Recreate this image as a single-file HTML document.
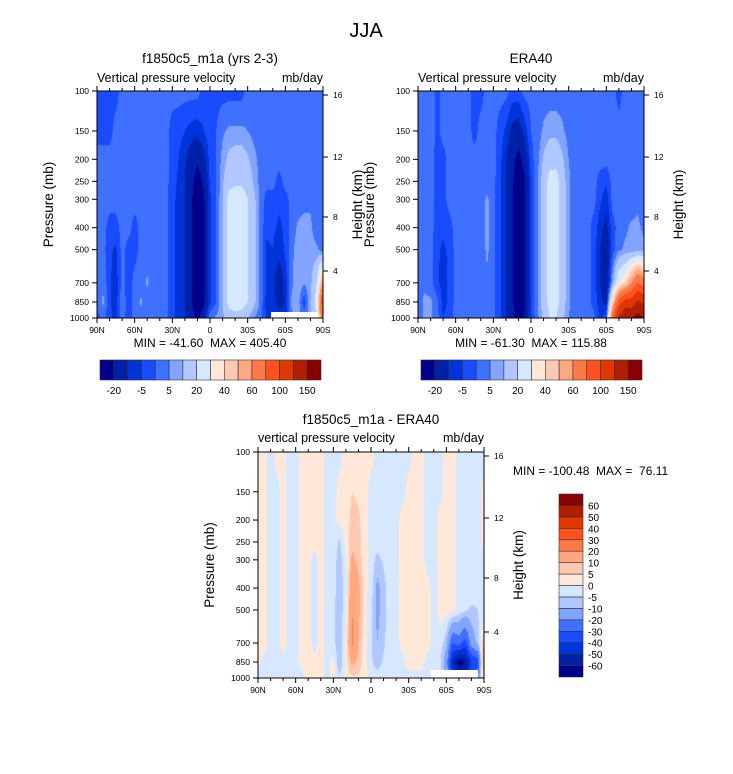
<!DOCTYPE html>
<html><head><meta charset="utf-8">
<style>
body{margin:0;background:#fff;}
#root{position:relative;width:733px;height:774px;overflow:hidden;font-family:"Liberation Sans",sans-serif;background:#fff;}
canvas{position:absolute;}
svg{position:absolute;left:0;top:0;}
</style></head>
<body>
<div id="root">
<canvas id="c1" width="226" height="227" style="left:97px;top:91px"></canvas>
<canvas id="c2" width="226" height="227" style="left:418px;top:91px"></canvas>
<canvas id="c3" width="226" height="226" style="left:258px;top:452px"></canvas>
<svg id="ov" width="733" height="774"></svg>
</div>
<script>
const pLevels = [100,150,200,250,300,400,500,700,850,1000];
const latTickLabels = ['90N','60N','30N','0','30S','60S','90S'];
const pTickLabels = [100,150,200,250,300,400,500,700,850,1000];
const heightTickLabels = [16,12,8,4];
const palette = ['#00008c','#0020a8','#0033d8','#1a4cff','#4070ff','#80a4ff','#b0c8ff','#d6e8ff','#ffe8d8','#ffc8b0','#ffa880','#ff7848','#ff5020','#e03800','#b02000','#8a0000'];
const topLevels = [-20,-10,-5,0,5,10,20,30,40,50,60,80,100,125,150];
const topLevelLabels = ['-20','-5','5','20','40','60','100','150'];
const diffLevels = [-60,-50,-40,-30,-20,-10,-5,0,5,10,20,30,40,50,60];
const diffLevelLabels = ['-60','-50','-40','-30','-20','-10','-5','0','5','10','20','30','40','50','60'];

const modelRows = [
[-2,-2,-2,-2,2,2,2,2,2,2,2,2,2,2,2,2,2,-2,-2,-2,-2,-2,-2,-2,2,2,2,2,2,2,2,2,2,2,2,2,2],
[-2,-2,-2,2,2,2,2,2,2,2,2,2,-2,-3,-5,-7,-8,-5,-2,0,4,6,6,6,5,3,2,2,2,2,2,2,2,2,2,2,2],
[2,2,2,2,2,2,2,2,2,2,2,2,-2,-5,-9,-14,-18,-13,-3,0,7,12,14,14,11,7,3,2,2,2,2,2,2,2,2,2,2],
[2,2,2,2,2,2,2,2,2,2,2,2,-3,-6,-10,-16,-26,-18,-4,0,9,16,18,18,15,9,3,2,2,-2,2,2,2,2,2,2,2],
[2,2,2,2,2,2,2,2,2,2,2,2,-4,-6,-10,-18,-30,-22,-6,0,10,24,26,26,20,12,4,-2,-2,-4,-2,2,2,2,4,2,2],
[2,2,-2,-2,2,2,-2,2,2,2,2,2,-4,-6,-10,-18,-30,-22,-6,0,10,24,26,26,20,12,4,-4,-4,-6,-4,2,6,8,6,2,2],
[2,2,-4,-6,2,-2,-2,2,2,2,2,2,-4,-6,-10,-18,-30,-22,-6,0,10,24,26,26,20,12,4,-6,-5,-8,-4,4,7,8,7,6,2],
[2,4,-4,-8,2,-3,2,2,6,2,2,2,-4,-6,-10,-18,-30,-22,-6,0,10,24,26,26,20,12,4,-6,-8,-15,-8,4,8,6,8,20,60],
[2,6,-4,-8,4,-3,2,6,2,2,2,2,-4,-6,-10,-18,-30,-22,-6,0,10,24,26,26,20,12,4,-7,-8,-12,-10,6,8,-4,10,25,100],
[-2,2,-4,-6,2,-2,2,2,2,2,2,2,-4,-6,-10,-16,-22,-14,4,6,8,14,16,14,10,5,2,-6,-6,-8,-6,4,6,4,6,20,80]
];
const eraRows = [
[2,2,5,-2,2,2,2,2,2,-2,-2,2,2,2,2,-2,-2,2,2,2,2,2,2,2,2,2,2,2,2,2,2,2,-2,2,2,2,2],
[2,2,5,-2,2,2,2,2,2,-2,2,2,2,-2,-6,-12,-14,-8,0,2,6,8,8,6,3,2,2,2,2,2,2,2,2,2,2,2,2],
[2,2,2,-2,-2,2,2,2,2,2,2,2,2,-3,-10,-16,-24,-16,-2,3,11,16,16,11,5,2,2,2,2,2,2,2,2,2,2,2,2],
[2,2,2,-2,-2,2,2,2,2,2,2,2,2,-4,-10,-18,-30,-22,-4,4,14,24,25,14,6,2,2,2,2,-2,-4,2,2,2,2,2,2],
[2,2,2,-2,-2,2,2,2,2,2,2,6,2,-4,-10,-18,-30,-22,-4,4,14,24,25,14,6,2,2,2,2,-4,-8,2,2,2,2,4,2],
[2,2,2,-2,-4,-2,2,2,2,2,2,6,2,-4,-10,-18,-30,-22,-4,4,14,24,25,14,6,2,2,2,-2,-8,-12,-2,2,4,6,6,4],
[2,2,2,-4,-6,-4,2,2,2,2,2,6,2,-4,-10,-18,-30,-22,-4,4,14,24,25,14,6,2,2,2,-2,-10,-16,-2,4,6,6,8,6],
[2,4,2,-4,-7,-4,2,2,2,2,2,4,2,-4,-10,-18,-30,-22,-4,4,14,24,25,14,6,2,2,2,-2,-10,-18,8,30,40,60,80,70],
[2,6,6,2,-7,-4,2,2,2,2,2,2,2,-4,-10,-18,-30,-22,-4,4,14,24,25,14,6,2,2,2,-2,-8,-12,40,90,110,110,130,120],
[2,6,6,2,-5,-2,2,2,2,2,2,2,2,-4,-10,-16,-26,-18,-4,3,12,20,20,12,5,2,2,2,2,-6,-2,80,130,150,150,160,150]
];
const diffRows = [
[2,2,-2,2,2,-2,-2,2,2,2,2,-2,-2,-2,2,2,2,2,2,-2,-2,-2,-2,-2,-2,2,2,-2,-2,-2,2,2,-2,-2,-2,-2,-2],
[2,2,-2,-2,2,-2,-2,2,2,2,2,-2,-2,2,2,5,4,2,-2,-2,-3,-2,-2,-2,2,2,2,-2,-2,-2,2,2,-2,-2,-2,-2,2],
[2,2,-2,-2,2,-2,-2,2,2,2,2,-2,-2,2,2,7,6,2,-2,-2,-2,-2,-2,2,2,2,2,-2,-2,2,2,2,-2,-2,-2,-2,2],
[2,2,-2,-2,2,-2,-2,2,2,2,2,-2,-2,-6,2,8,7,2,-2,-2,-2,-2,-2,2,2,2,2,-2,-2,2,2,2,-2,-2,-2,-2,2],
[2,2,-2,-2,2,-2,-2,2,2,-2,2,-2,-3,-7,-2,12,8,2,-2,-7,-4,-2,-2,2,2,2,2,-2,-2,2,2,2,-2,-2,-2,-2,-2],
[2,2,-2,-2,2,-2,-2,2,2,-2,2,-2,-3,-8,-2,18,12,2,-2,-12,-7,-2,-2,2,2,2,2,2,-2,2,2,2,-2,-2,-2,-3,-4],
[2,2,-2,-2,2,-2,-2,2,2,-2,2,-2,-4,-8,-2,20,12,2,-4,-12,-7,-2,-2,2,2,2,2,2,-2,2,2,2,-2,-4,-6,-5,-3],
[2,2,-2,-2,2,-2,-2,2,2,-2,2,-2,-4,-8,2,22,10,2,-4,-10,-6,-2,-2,2,2,2,2,2,-2,-2,-8,-30,-25,-35,-15,-8,10],
[2,-2,-2,-2,-2,-2,-2,2,2,2,2,-2,2,-10,2,12,8,2,-4,-8,-4,-2,-2,-2,2,2,2,-2,-2,-4,-15,-50,-65,-60,-40,-35,20],
[-2,-2,-2,-2,-2,-2,-2,-2,2,2,2,-2,2,-4,2,4,4,2,-2,-2,-2,-2,-2,-2,-2,-2,-2,-2,-2,-4,-10,-40,-50,-50,-30,-20,10]
];

const NS='http://www.w3.org/2000/svg';
const ov=document.getElementById('ov');
function hexRgb(h){return [parseInt(h.substr(1,2),16),parseInt(h.substr(3,2),16),parseInt(h.substr(5,2),16)];}
const palRgb=palette.map(hexRgb);
function levelIndex(v,lv){let k=0;while(k<lv.length&&v>=lv[k])k++;return k;}
function yOfP(p,top,h){return top+Math.log10(p/100)*h;}

function renderField(id,rows,lv){
  const cv=document.getElementById(id),ctx=cv.getContext('2d');
  const W=cv.width,H=cv.height,img=ctx.createImageData(W,H);
  const ncol=rows[0].length;
  const lp=pLevels.map(p=>Math.log10(p/100));
  for(let y=0;y<H;y++){
    const f=(y+0.5)/H;
    let j=0;while(j<lp.length-2&&f>lp[j+1])j++;
    const ty=Math.min(1,Math.max(0,(f-lp[j])/(lp[j+1]-lp[j])));
    for(let x=0;x<W;x++){
      const c=(x+0.5)/W*(ncol-1);
      const i=Math.min(ncol-2,Math.floor(c)),tx=c-i;
      const a=rows[j][i]*(1-tx)+rows[j][i+1]*tx;
      const b=rows[j+1][i]*(1-tx)+rows[j+1][i+1]*tx;
      const v=a*(1-ty)+b*ty;
      const col=palRgb[levelIndex(v,lv)];
      const o=(y*W+x)*4;img.data[o]=col[0];img.data[o+1]=col[1];img.data[o+2]=col[2];img.data[o+3]=255;
    }
  }
  ctx.putImageData(img,0,0);
}
function el(tag,attrs,txt){const e=document.createElementNS(NS,tag);for(const k in attrs)e.setAttribute(k,attrs[k]);if(txt!==undefined)e.textContent=txt;ov.appendChild(e);return e;}

const heightOffsets=[4,66,126,180];
function drawAxes(L,T,W,H,sub,subY,left,unitsY){
  let e;
  e=el('text',{x:L+W/2,y:subY,'text-anchor':'middle','font-size':13.5},sub);
  
  e=el('text',{x:L,y:unitsY,'font-size':12.5},left);
  
  e=el('text',{x:L+W,y:unitsY,'text-anchor':'end','font-size':12.5},'mb/day');
  
  e=el('rect',{x:L,y:T,width:W,height:H,fill:'none',stroke:'#000','stroke-width':1});
  
  pTickLabels.forEach(p=>{const y=yOfP(p,T,H);
    el('line',{x1:L-5,x2:L,y1:y,y2:y,stroke:'#000'});
    e=el('text',{x:L-8,y:y+3,'text-anchor':'end','font-size':8.5},String(p));
    });
  latTickLabels.forEach((t,k)=>{const x=L+k*W/6;
    el('line',{x1:x,x2:x,y1:T+H,y2:T+H+5,stroke:'#000'});
    el('line',{x1:x,x2:x,y1:T-5,y2:T,stroke:'#000'});
    e=el('text',{x:x,y:T+H+15,'text-anchor':'middle','font-size':8.5},t);
    });
  for(let k=0;k<18;k++){const x=L+k*W/18;if(k%3){el('line',{x1:x,x2:x,y1:T+H,y2:T+H+3,stroke:'#000'});el('line',{x1:x,x2:x,y1:T-3,y2:T,stroke:'#000'});}}
  heightTickLabels.forEach((h,k)=>{const y=T+heightOffsets[k];
    el('line',{x1:L+W,x2:L+W+5,y1:y,y2:y,stroke:'#000'});
    e=el('text',{x:L+W+10,y:y+3,'font-size':8.5},String(h));
    });
  const cy=T+H/2;
  e=el('text',{x:L-44,y:cy,'text-anchor':'middle','font-size':13.5,transform:`rotate(-90 ${L-44} ${cy})`},'Pressure (mb)');
  
  e=el('text',{x:L+W+39,y:cy,'text-anchor':'middle','font-size':13.5,transform:`rotate(-90 ${L+W+39} ${cy})`},'Height (km)');
  
}
function hColorbar(x0,y0,w,h,labels){
  const n=palette.length,bw=w/n;
  palette.forEach((c,k)=>{const r=el('rect',{x:x0+k*bw,y:y0,width:bw,height:h,fill:c,stroke:'#333','stroke-width':0.6});
    });
  labels.forEach((t,k)=>{const e=el('text',{x:x0+(2*k+1)*bw,y:y0+h+14,'text-anchor':'middle','font-size':10},t);
    });
}

renderField('c1',modelRows,topLevels);
renderField('c2',eraRows,topLevels);
renderField('c3',diffRows,diffLevels);

let t=el('text',{x:366,y:37,'text-anchor':'middle','font-size':20},'JJA');


t=el('rect',{x:271,y:312,width:47,height:6,fill:'#fff'});

t=el('rect',{x:431,y:670,width:47,height:8,fill:'#fff'});


drawAxes(97,91,226,227,'f1850c5_m1a (yrs 2-3)',63,'Vertical pressure velocity',82);
drawAxes(418,91,226,227,'ERA40',63,'Vertical pressure velocity',82);
drawAxes(258,452,226,226,'f1850c5_m1a - ERA40',424,'vertical pressure velocity',442);

t=el('text',{x:210,y:347,'text-anchor':'middle','font-size':12},'MIN = -41.60\u00a0\u00a0MAX = 405.40');

t=el('text',{x:531,y:347,'text-anchor':'middle','font-size':12},'MIN = -61.30\u00a0\u00a0MAX = 115.88');

t=el('text',{x:513,y:475,'font-size':12},'MIN = -100.48\u00a0\u00a0MAX =\u00a0\u00a076.11');


hColorbar(100,360,221,20,topLevelLabels);
hColorbar(421,360,221,20,topLevelLabels);

(function(){
  const x0=559,y0=494,w=24,h=183,n=palette.length,bh=h/n;
  palette.forEach((c,k)=>{const r=el('rect',{x:x0,y:y0+h-(k+1)*bh,width:w,height:bh,fill:c,stroke:'#333','stroke-width':0.6});
    });
  diffLevelLabels.forEach((s,k)=>{const e=el('text',{x:x0+w+5,y:y0+h-(k+1)*bh+4,'font-size':10},s);
    });
})();
</script>
</body></html>
